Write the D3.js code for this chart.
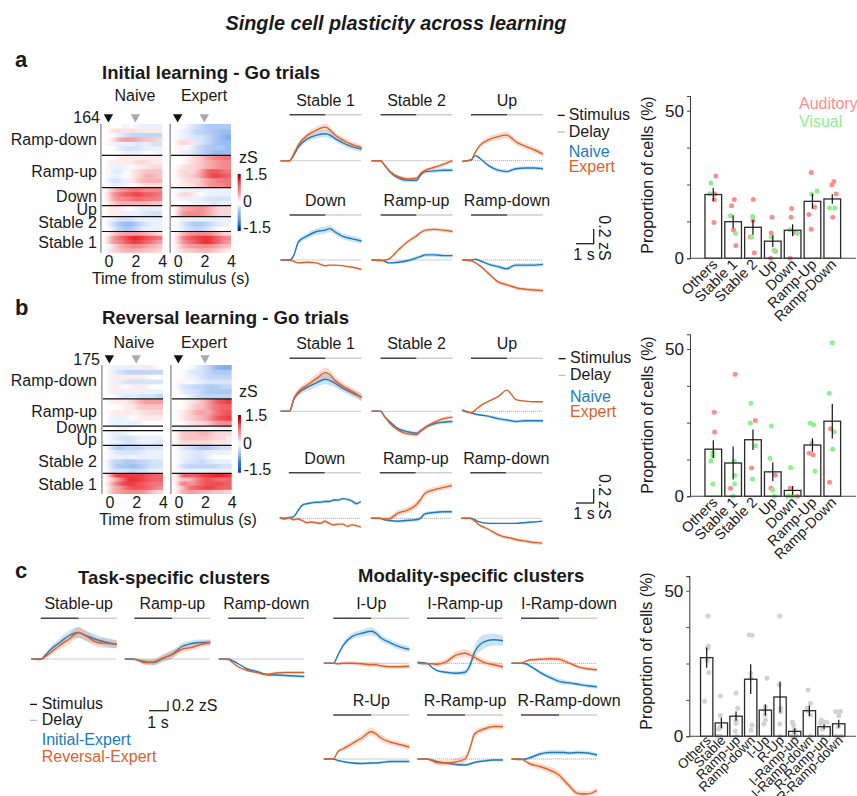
<!DOCTYPE html>
<html>
<head>
<meta charset="utf-8">
<script src="https://cdn.jsdelivr.net/npm/d3@7"></script>
<style>
body { margin: 0; background: #fff; overflow: hidden; }
text { font-family: "Liberation Sans", Arial, sans-serif; fill: #1a1a1a; }
</style>
</head>
<body>
<script>
// ---------- trace data (zS), read at these times (s) ----------
var traceTimes = [-0.5, 0, 0.25, 0.5, 1, 1.5, 2, 2.25, 2.5, 3, 3.5, 4];

var semTiny  = [0, 0, .004, .006, .01, .01, .01, .01, .01, .01, .01, .01];
var semSmall = [0, 0, .01, .015, .02, .025, .025, .025, .025, .025, .025, .025];
var semMid   = [0, .002, .02, .03, .04, .045, .05, .05, .04, .04, .04, .04];
var semBig   = [0, .002, .025, .04, .05, .06, .07, .065, .06, .05, .05, .05];
var semWide  = [0, .004, .03, .05, .06, .07, .08, .07, .07, .06, .06, .06];
var semHuge  = [0, .005, .04, .06, .08, .1, .11, .1, .1, .09, .09, .08];
var semLate  = [0, .005, .01, .02, .03, .04, .05, .09, .12, .14, .12, .1];

// panel a
var aStable1Naive = [0, 0, .08, .19, .30, .35, .37, .35, .31, .24, .19, .16];
var aStable1Expert = [0, 0, .10, .22, .35, .42, .46, .42, .36, .28, .22, .18];
var aStable2Naive = [0, 0, -.07, -.15, -.24, -.27, -.27, -.19, -.15, -.14, -.13, -.13];
var aStable2Expert = [0, 0, -.07, -.14, -.22, -.25, -.24, -.17, -.13, -.09, -.05, 0];
var aUpNaive = [-.01, .01, .07, .03, -.07, -.13, -.15, -.13, -.11, -.10, -.10, -.11];
var aUpExpert = [-.01, .01, .12, .21, .29, .33, .35, .31, .26, .20, .15, .09];
var aDownNaive = [0, 0, .07, .25, .33, .39, .41, .43, .39, .32, .29, .26];
var aDownExpert = [0, 0, -.02, -.04, -.03, -.04, -.08, -.07, -.07, -.08, -.10, -.13];
var aRampUpNaive = [0, 0, -.02, -.04, -.03, -.01, .03, .05, .07, .07, .06, .06];
var aRampUpExpert = [0, -.01, 0, .02, .14, .25, .33, .38, .41, .42, .41, .39];
var aRampDownNaive = [0, 0, .01, -.01, -.06, -.09, -.12, -.09, -.07, -.07, -.07, -.06];
var aRampDownExpert = [0, -.01, -.04, -.08, -.19, -.30, -.34, -.36, -.38, -.40, -.41, -.42];

// panel b
var bStable1Naive = [0, 0, .17, .25, .33, .39, .44, .42, .39, .31, .25, .19];
var bStable1Expert = [0, 0, .18, .27, .36, .45, .53, .50, .43, .34, .27, .19];
var bStable2Naive = [0, 0, -.08, -.14, -.24, -.28, -.30, -.26, -.22, -.17, -.15, -.14];
var bStable2Expert = [0, 0, -.08, -.16, -.26, -.31, -.32, -.27, -.22, -.15, -.10, -.08];
var bUpNaive = [.02, -.02, -.04, -.05, -.07, -.10, -.12, -.13, -.14, -.13, -.13, -.13];
var bUpExpert = [.01, -.02, .02, .07, .14, .20, .29, .23, .16, .14, .13, .13];
var bRampUpNaive = [0, 0, -.02, -.03, -.04, -.03, -.02, 0, .06, .08, .09, .09];
var bRampUpExpert = [0, 0, -.01, -.01, .07, .11, .18, .25, .34, .39, .42, .45];
var bRampDownNaive = [0, 0, -.02, -.05, -.07, -.07, -.07, -.07, -.07, -.06, -.05, -.04];
var bRampDownExpert = [0, 0, -.04, -.09, -.15, -.22, -.26, -.27, -.29, -.31, -.33, -.34];
// the b Down traces are noisy, so they are read on a finer grid
var bDownTimes = [-.5, -.25, 0, .25, .5, .75, 1, 1.25, 1.5, 1.75, 2, 2.25, 2.5, 2.75, 3, 3.25, 3.5, 3.75, 4];
var bDownNaive = [.01, 0, .01, .02, .1, .18, .2, .21, .22, .22, .23, .23, .25, .25, .27, .26, .24, .2, .23];
var bDownExpert = [.01, -.01, .01, -.02, -.01, -.03, -.06, -.05, -.06, -.07, -.04, -.07, -.09, -.08, -.08, -.11, -.09, -.1, -.12];
var bDownSem = [.015, .015, .015, .015, .02, .02, .02, .02, .02, .02, .02, .02, .02, .02, .02, .02, .02, .02, .02];

// panel c, task-specific
var cStableUpInitial = [0, 0, .08, .18, .33, .47, .53, .49, .45, .38, .33, .29];
var cStableUpReversal = [0, -.01, .05, .12, .27, .40, .53, .49, .43, .33, .31, .30];
var cRampUpInitial = [0, 0, -.03, -.05, -.07, .01, .10, .17, .25, .31, .33, .33];
var cRampUpReversal = [0, -.01, -.03, -.07, -.06, .02, .09, .14, .19, .23, .29, .33];
var cRampDownInitial = [0, 0, -.04, -.09, -.20, -.25, -.31, -.32, -.32, -.33, -.34, -.35];
var cRampDownReversal = [0, -.01, -.08, -.15, -.23, -.27, -.31, -.30, -.28, -.27, -.27, -.27];

// panel c, modality-specific
var cIUpInitial = [0, 0, .17, .35, .54, .60, .64, .60, .51, .41, .33, .28];
var cIUpReversal = [0, 0, -.01, 0, 0, -.01, -.03, -.03, -.05, -.07, -.07, -.06];
var cIRampUpInitial = [.02, 0, -.08, -.14, -.18, -.20, -.18, -.05, .22, .43, .47, .45];
var cIRampUpReversal = [0, -.01, -.01, -.02, .03, .16, .20, .17, .12, .02, -.03, -.07];
var cIRampDownInitial = [0, 0, -.01, -.06, -.18, -.28, -.36, -.38, -.39, -.42, -.45, -.47];
var cIRampDownReversal = [0, 0, .04, .07, .08, .09, .08, .05, .01, -.07, -.11, -.13];
var cRUpInitial = [0, 0, -.03, -.05, -.08, -.09, -.08, -.08, -.07, -.05, -.05, -.05];
var cRUpReversal = [0, 0, .15, .20, .31, .42, .55, .50, .42, .34, .29, .24];
var cRRampUpInitial = [0, 0, -.02, -.05, -.08, -.11, -.12, -.10, -.07, -.04, -.02, -.02];
var cRRampUpReversal = [0, 0, -.03, -.07, -.08, -.06, 0, .20, .50, .60, .65, .65];
var cRRampDownInitial = [0, -.01, 0, .03, .10, .13, .13, .13, .12, .13, .12, .08];
var cRRampDownReversal = [0, 0, -.05, -.10, -.15, -.22, -.32, -.42, -.52, -.69, -.70, -.63];

// ---------- heat maps: rows of tenths of zS, top row first ----------
var heatTimes = [-0.25, 0.25, 0.75, 1.25, 1.75, 2.25, 2.75, 3.25, 3.75];
var heatClusters = ["Ramp-down", "Ramp-up", "Down", "Up", "Stable 2", "Stable 1"];
var aClusterCells = [40, 41, 23, 14, 19, 27];
var bClusterCells = [46, 37, 6, 20, 38, 28];

var aHeatNaive = [
  [[0,0,0,-1,0,-1,-1,-1,-1],[0,1,2,1,2,1,1,1,1],[0,0,-1,-2,-3,-3,-3,-3,-3],[0,1,4,5,5,4,3,3,2],[0,-1,-1,-1,-1,-2,-1,-2,-2],[0,0,-1,-2,-2,-2,-1,-1,-1],[0,0,0,-1,-1,-1,0,0,-1]],
  [[0,0,1,1,1,1,1,1,1],[0,1,1,1,1,2,2,1,1],[0,-1,-1,-1,0,1,1,2,2],[0,-1,-2,0,1,2,3,3,3],[0,-1,-1,0,1,2,4,4,3],[0,-2,-2,-1,1,3,4,4,4],[0,-1,-1,-1,0,1,2,2,2]],
  [[0,3,5,6,7,7,6,6,6],[0,5,7,8,9,10,8,8,7],[0,4,6,6,7,8,7,7,6],[0,2,4,4,4,4,4,3,3]],
  [[0,1,1,0,0,-1,-1,-1,-1],[0,1,1,-1,-1,-1,-2,-2,-2]],
  [[0,-1,-2,-2,-2,-1,-1,-1,-1],[0,-2,-4,-5,-5,-3,-2,-1,-1],[0,-1,-3,-4,-4,-2,-1,-1,-1]],
  [[0,2,4,5,5,5,4,3,2],[0,5,7,9,11,11,9,8,7],[0,5,6,8,10,10,8,7,5],[0,-1,4,5,6,6,5,4,3],[0,2,3,4,4,4,3,3,2]]
];
var aHeatExpert = [
  [[0,0,-1,-2,-3,-4,-4,-4,-4],[0,-1,-1,-3,-3,-4,-4,-5,-5],[0,-1,-1,-2,-2,-3,-4,-5,-6],[0,2,2,-1,-2,-3,-4,-5,-5],[0,1,0,-2,-3,-4,-4,-4,-5],[0,-1,-1,-2,-3,-4,-5,-5,-5]],
  [[0,0,1,2,3,5,6,7,7],[0,0,1,2,3,4,5,6,6],[0,1,2,2,3,4,5,6,6],[0,2,2,2,5,8,9,8,7],[0,2,2,3,5,8,10,9,8],[0,1,2,2,3,5,6,7,7],[0,1,1,2,3,5,6,6,7]],
  [[0,-1,-1,-1,-1,-1,-1,-1,-1],[0,2,2,1,0,-1,-1,-1,-1],[0,-1,-1,-1,-1,-2,-2,-2,-2],[0,0,0,-1,-1,-1,-2,-1,-1]],
  [[0,4,5,5,6,5,3,2,2],[0,5,6,6,6,5,3,2,2]],
  [[0,-1,-1,-1,-1,-1,-1,-1,-1],[0,-1,-3,-4,-4,-3,-2,-1,-1],[0,-1,-2,-3,-3,-2,-1,0,0]],
  [[0,3,5,6,6,6,5,3,2],[0,6,8,9,10,11,9,7,6],[0,5,7,8,10,11,9,7,5],[0,3,5,5,6,6,5,4,3],[0,2,3,3,4,4,3,2,1]]
];
var bHeatNaive = [
  [[0,-1,-1,-1,-1,1,1,1,0],[0,-1,-2,-3,-3,-3,-3,-3,-3],[0,1,1,1,1,1,1,0,0],[0,-1,-1,-2,-2,-2,-2,-2,-2],[0,1,1,0,1,1,1,0,0],[0,-1,-1,-1,-1,-1,-1,-1,-1],[0,0,-1,-2,-1,-2,-2,-2,-3]],
  [[0,1,1,1,2,4,5,5,5],[0,0,0,1,1,3,3,3,3],[0,1,1,1,1,1,2,2,2],[0,-1,-1,-1,0,1,1,1,1],[0,-1,-1,-1,-1,-1,0,0,0]],
  [[0,0,-1,-1,0,0,0,0,0]],
  [[0,-1,-1,-1,0,0,0,0,0],[0,-1,-2,-2,-2,-1,-1,-1,-1],[0,-1,-1,-2,-2,-1,-1,-1,-2]],
  [[0,-3,-4,-3,-3,-3,-2,-2,-2],[0,-1,-2,-2,-2,-2,-1,-1,-1],[0,-1,-1,-1,-1,-1,-1,-1,-1],[0,-3,-3,-4,-4,-3,-3,-2,-2],[0,-3,-4,-4,-5,-4,-3,-2,-2],[0,-2,-2,-2,-3,-2,-2,-1,-1]],
  [[0,9,10,10,10,10,9,8,8],[0,3,6,10,11,10,9,8,8],[0,5,8,10,10,9,8,7,7],[0,4,5,8,9,9,8,7,6],[0,4,5,6,6,6,5,3,2]]
];
var bHeatExpert = [
  [[0,0,0,-1,-2,-3,-5,-6,-6],[0,0,-1,-2,-2,-3,-4,-4,-4],[0,0,-1,-1,-2,-3,-3,-3,-3],[0,1,0,-1,-1,-2,-2,-2,-2],[0,-2,-2,-3,-3,-4,-4,-3,-3],[0,-1,-2,-2,-3,-4,-4,-4,-4],[0,0,-1,-2,-3,-3,-3,-3,-3]],
  [[0,0,1,2,3,5,8,9,10],[0,0,1,3,3,5,7,8,8],[0,1,2,4,5,4,7,8,9],[0,1,2,3,4,5,8,9,10],[0,0,1,2,2,3,5,6,6]],
  [[0,-1,-1,-1,-1,0,-1,-1,-1]],
  [[0,3,3,3,4,4,2,2,2],[0,3,3,3,3,3,2,2,1],[0,2,2,2,2,2,1,1,1]],
  [[0,-2,-2,-3,-4,-4,-3,-2,-2],[0,-1,-1,-2,-2,-1,-1,-1,-1],[0,-1,-1,-2,-2,-1,0,0,0],[0,-1,-2,-2,-3,-2,-1,-1,-1],[0,-2,-3,-3,-3,-3,-3,-2,-2],[0,-1,-1,-1,-1,-1,-1,-1,-1]],
  [[0,9,8,8,10,10,11,11,10],[0,4,3,6,8,9,8,7,8],[0,8,5,6,8,9,9,9,8],[0,3,7,8,9,10,9,8,8],[0,4,5,5,4,4,3,3,2]]
];

// ---------- bar data (%) ----------
var abCategories = ["Others", "Stable 1", "Stable 2", "Up", "Down", "Ramp-Up", "Ramp-Down"];
var aMeans = [21.6, 12.4, 10.5, 5.8, 9.5, 19.3, 20.1];
var aErrors = [2.2, 2.2, 2.5, 2, 2, 2.5, 1.6];
var aAuditoryCat = [.13,.08,.05,.03,1.06,.92,1.02,1.14,2.02,2,1.87,2.07,2.96,2.92,3.13,2.89,3.95,3.92,4.1,3.88,4.94,5.11,4.82,4.94,6.08,5.98,6.2,6.03];
var aAuditoryVal = [27.9,21.8,19.8,12.1,19.9,17.8,9.6,4.3,19.9,12.8,7.2,1.9,13.9,8.6,2.4,0,16.9,13.9,8.7,0,29.1,17.4,14.8,9.8,26,24.9,21.8,13.9];
var aVisualCat = [-.12,-.17,.87,1.13,1.98,1.93,2.92,3.06,3.87,4.24,5.23,4.97,5.86,6.13];
var aVisualVal = [25.5,21.9,14.4,8.4,14.2,7.2,7.2,2.7,9.7,8.5,22.8,21.8,17,17];

var bMeans = [16, 11.3, 19.2, 8.3, 2, 17.4, 25.5];
var bErrors = [3, 5.6, 3.5, 3.2, 1.5, 2.3, 5.9];
var bAuditoryCat = [.05,.07,1.11,.87,2.12,1.93,3.13,2.91,3.88,4.24,4.84,5.03,5.92,5.86];
var bAuditoryVal = [28.5,21.8,41.4,2.7,25.7,9.6,7.2,2.7,2.7,0,14.6,14.1,22.9,4.8];
var bVisualCat = [-.02,-.02,-.12,-.02,1.05,1.08,1.08,1,1.9,1.87,2.13,1.98,2.93,2.86,3,3.08,3.9,3.76,4,3.93,4.89,5.06,4.96,5.13,6,5.85,6.1,6.02];
var bVisualVal = [14.8,13.8,12.1,4.2,11.9,7.1,4.3,0,31.6,24.9,17.2,5.9,23.9,12.9,2.1,0,9.8,0,0,0,24.9,24.3,18,8.5,52.1,35,21.9,16];

var cCategories = ["Others", "Stable", "Ramp-up", "Ramp-down", "I-Up", "R-Up", "I-Ramp-up", "I-Ramp-down", "R-Ramp-up", "R-Ramp-down"];
var cMeans = [27, 4.6, 6.9, 19.6, 9, 13.5, 1.7, 8.8, 3.3, 4.3];
var cErrors = [3.5, 1.8, 1.6, 5.1, 1.9, 5.3, 1.1, 1.8, .8, 1.4];
var cDotCat = [.09,.11,.07,.14,-.14,.05,.93,.93,.95,.82,.93,.7,2,2.11,2,2,1.95,2.02,2.89,3.09,3,3.09,3.02,3,4.11,4,3.98,4,3.89,3.98,4.98,4.95,5.05,5.05,4.98,5,5.84,5.93,5.98,5.84,6.09,5.95,6.91,7.07,6.84,6.91,7.09,7.07,7.8,7.95,8.2,7.75,7.9,7.86,8.8,9.11,9,8.98,8.84,9.16];
var cDotVal = [41.3,31,30.2,21.9,12,26,13.8,7.1,3.3,2.5,0,0,14.9,9.6,5.4,4.5,1.8,0,34.9,34.7,21.6,3.9,2.2,19.9,19.9,10.2,9,5.6,4.2,7.4,41.3,17.6,9.6,8.4,4.2,0,4.8,3.7,2.2,0,0,1,15.9,11.3,9.7,8.7,7.3,0,5.5,5,4.7,4.5,2.4,0,8.5,8.5,7.1,3.3,0,0];

// ---------- drawing ----------
var blue = "#1a7cc4", orange = "#e0602a", auditory = "#ff8c8c", visual = "#8cf08c";
var stimColor = "#454545", delayColor = "#cfcfcf";
var fontSize = 16;

var svg = d3.select("body").append("svg").attr("width", 857).attr("height", 796);
var defs = svg.append("defs");
defs.append("filter").attr("id", "smear")
    .attr("x", "-15%").attr("y", "-10%").attr("width", "130%").attr("height", "120%")
    .append("feGaussianBlur").attr("stdDeviation", "3 0.7");

function label(x, y, str, size, opts) {
    opts = opts || {};
    var t = svg.append("text").attr("x", x).attr("y", y).text(str)
        .style("font-size", size + "px")
        .attr("text-anchor", opts.anchor || "start");
    if (opts.bold) t.style("font-weight", "bold");
    if (opts.italic) t.style("font-style", "italic");
    if (opts.color) t.style("fill", opts.color);
    if (opts.rotate) t.attr("transform", "rotate(" + opts.rotate + "," + x + "," + y + ")");
    return t;
}

function segment(x1, y1, x2, y2, color, w) {
    svg.append("line").attr("x1", x1).attr("y1", y1).attr("x2", x2).attr("y2", y2)
        .attr("stroke", color).attr("stroke-width", w);
}

// one small trace panel
function tracePanel(title, zeroX, barY, baseY, pxPerSec, pxPerZ, series, times, titleShift) {
    var x = d3.scaleLinear().domain([0, 4]).range([zeroX, zeroX + 4 * pxPerSec]);
    var y = d3.scaleLinear().domain([0, 1]).range([baseY, baseY - pxPerZ]);
    var g = svg.append("g");

    label(x(2) + (titleShift || 0), barY - 9, title, fontSize, {anchor: "middle"});
    g.append("line").attr("x1", x(0)).attr("x2", x(4)).attr("y1", baseY).attr("y2", baseY)
        .attr("stroke", "#8a8a8a").attr("stroke-width", .7).attr("stroke-dasharray", "1.2,0.8");
    g.append("line").attr("x1", x(0)).attr("x2", x(2)).attr("y1", barY).attr("y2", barY)
        .attr("stroke", stimColor).attr("stroke-width", 1.6);
    g.append("line").attr("x1", x(2)).attr("x2", x(4)).attr("y1", barY).attr("y2", barY)
        .attr("stroke", delayColor).attr("stroke-width", 1.6);

    var area = d3.area().curve(d3.curveMonotoneX)
        .x(function(d) { return x(d.t); })
        .y0(function(d) { return y(d.v - d.s); })
        .y1(function(d) { return y(d.v + d.s); });
    var line = d3.line().curve(d3.curveMonotoneX)
        .x(function(d) { return x(d.t); })
        .y(function(d) { return y(d.v); });

    series.forEach(function(s) {
        var pts = (times || traceTimes).map(function(t, i) { return {t: t, v: s.values[i], s: s.sem[i]}; });
        g.append("path").datum(pts).attr("d", area).attr("fill", s.color).attr("opacity", .22);
        g.append("path").datum(pts).attr("d", line).attr("fill", "none")
            .attr("stroke", s.color).attr("stroke-width", 1.4);
    });
}

function pair(v1, sem1, v2, sem2) {
    return [{values: v1, sem: sem1, color: blue}, {values: v2, sem: sem2, color: orange}];
}

var heatColor = d3.scaleLinear().domain([-1.5, -1.2, 0, 1.2, 1.5])
    .range(["#00107a", "#0a5ce0", "#ffffff", "#e8141c", "#7a0010"]);

var clipCount = 0;

// one heat map with its cluster lines
function heatMap(matrix, cells, x0, x1, top, bottom) {
    var total = d3.sum(cells);
    var x = d3.scaleBand().domain(heatTimes).range([x0, x1]);
    var y = d3.scaleLinear().domain([total, 0]).range([top, bottom]);
    var time = d3.scaleLinear().domain([-0.5, 4]).range([x0, x1]);

    clipCount++;
    defs.append("clipPath").attr("id", "heat" + clipCount)
        .append("rect").attr("x", x0).attr("y", top).attr("width", x1 - x0).attr("height", bottom - top);
    var g = svg.append("g").attr("clip-path", "url(#heat" + clipCount + ")")
        .append("g").attr("filter", "url(#smear)");

    // the blur would fade the edges, so the outer cells run a little past the clip
    var remaining = total;
    matrix.forEach(function(rows, c) {
        var rowCells = cells[c] / rows.length;
        rows.forEach(function(row, r) {
            var yTop = y(remaining - r * rowCells);
            var yBot = y(remaining - (r + 1) * rowCells);
            if (c === 0 && r === 0) yTop -= 4;
            if (c === matrix.length - 1 && r === rows.length - 1) yBot += 4;
            g.selectAll(null).data(row).enter().append("rect")
                .attr("x", function(d, i) { return x(heatTimes[i]); })
                .attr("y", yTop)
                .attr("width", function(d, i) { return x.bandwidth() + (i === row.length - 1 ? 10 : .5); })
                .attr("height", yBot - yTop + .5)
                .attr("fill", function(d) { return heatColor(d / 10); });
        });
        remaining -= cells[c];
        if (c < matrix.length - 1) {
            segment(x0, y(remaining), x1, y(remaining), "#111", 1.2);
        }
    });
    segment(x0 - .8, top, x0 - .8, bottom, "#9a9a9a", 1.5);

    // stimulus onset and offset markers
    var tri = d3.symbol().type(d3.symbolTriangle).size(38);
    [[0, "#111"], [2, "#aaa"]].forEach(function(m) {
        svg.append("path").attr("d", tri())
            .attr("transform", "translate(" + time(m[0]) + "," + (top - 7) + ") rotate(180)")
            .attr("fill", m[1]);
    });

    var axis = d3.axisBottom(time).tickValues([0, 2, 4]).tickSize(0).tickPadding(0).tickFormat(d3.format("d"));
    var ag = svg.append("g").attr("transform", "translate(0," + (bottom + 3) + ")").call(axis);
    ag.select(".domain").remove();
    ag.selectAll("text").style("font-size", fontSize + "px").style("fill", "#1a1a1a");
}

function colorBar(x, top, bottom) {
    var y = d3.scaleLinear().domain([1.5, -1.5]).range([top, bottom]);
    svg.append("g").selectAll("rect").data(d3.range(-1.5, 1.5, .05)).enter().append("rect")
        .attr("x", x).attr("width", 3)
        .attr("y", function(d) { return y(d + .05); })
        .attr("height", y(0) - y(.05) + .3)
        .attr("fill", function(d) { return heatColor(d + .025); });
}

function barChart(o) {
    var cats = o.cats, means = o.means, errors = o.errors;
    var xBand = d3.scaleBand().domain(cats)
        .range([o.first - o.step / 2, o.first - o.step / 2 + o.step * cats.length])
        .paddingInner(.16).paddingOuter(.08);
    var xCat = d3.scaleLinear().domain([0, cats.length - 1])
        .range([xBand(cats[0]) + xBand.bandwidth() / 2, xBand(cats[cats.length - 1]) + xBand.bandwidth() / 2]);
    var y = d3.scaleLinear().domain([0, 50]).range([o.y0, o.y50]);

    o.dots.forEach(function(set) {
        svg.append("g").selectAll("circle").data(set.val).enter().append("circle")
            .attr("cx", function(d, i) { return xCat(set.cat[i]); })
            .attr("cy", function(d) { return y(d); })
            .attr("r", 2.5).attr("fill", set.color);
    });

    svg.append("g").selectAll("rect").data(means).enter().append("rect")
        .attr("x", function(d, i) { return xBand(cats[i]); })
        .attr("y", function(d) { return y(d); })
        .attr("width", xBand.bandwidth())
        .attr("height", function(d) { return o.y0 - y(d); })
        .attr("fill", "none").attr("stroke", "#2a2a2a").attr("stroke-width", 1.3);

    svg.append("g").selectAll("line").data(means).enter().append("line")
        .attr("x1", function(d, i) { return xCat(i); })
        .attr("x2", function(d, i) { return xCat(i); })
        .attr("y1", function(d, i) { return y(d - errors[i]); })
        .attr("y2", function(d, i) { return y(d + errors[i]); })
        .attr("stroke", "#111").attr("stroke-width", 1.2);

    // y axis runs a bit past the 50 tick
    var yAxisScale = d3.scaleLinear().domain([0, 55]).range([o.y0, y(55)]);
    var axis = d3.axisLeft(yAxisScale).tickValues([0, 12.5, 25, 37.5, 50]).tickSizeOuter(0).tickSize(3).tickPadding(3)
        .tickFormat(function(d) { return (d === 0 || d === 50) ? d : ""; });
    var ag = svg.append("g").attr("transform", "translate(" + o.axisX + ",0)").call(axis);
    ag.select(".domain").attr("stroke", "#444").attr("stroke-width", 1.1);
    ag.selectAll("line").attr("stroke", "#444");
    ag.selectAll("text").style("font-size", "17px");

    segment(o.axisX, o.y0, 856, o.y0, "#444", 1.1);

    cats.forEach(function(c, i) {
        label(xCat(i) + o.labelDx, o.y0 + o.labelDy, c, o.labelSize, {anchor: "end", rotate: -45});
    });

    label(o.axisX - 37, o.titleY, "Proportion of cells (%)", fontSize, {anchor: "middle", rotate: -90});
}

function scaleBar(x1, x2, yTop, yBottom) {
    segment(x1, yBottom, x2, yBottom, "#222", 1.3);
    segment(x2, yTop, x2, yBottom + .6, "#222", 1.3);
}

function timeLegend(dashX, textX, y1, y2) {
    segment(dashX, y1 - 4.6, dashX + 7, y1 - 4.6, "#111", 1.3);
    segment(dashX, y2 - 4.6, dashX + 7, y2 - 4.6, "#bbb", 1.3);
    label(textX, y1, "Stimulus", fontSize);
    label(textX, y2, "Delay", fontSize);
}

// ---------- titles ----------
label(396, 30, "Single cell plasticity across learning", 19.8, {anchor: "middle", bold: true, italic: true});
label(15, 67, "a", 22, {bold: true});
label(15, 315, "b", 22, {bold: true});
label(15, 578, "c", 22, {bold: true});
label(102, 79, "Initial learning - Go trials", 18.6, {bold: true});
label(102, 324, "Reversal learning - Go trials", 18.6, {bold: true});
label(78, 584, "Task-specific clusters", 18.5, {bold: true});
label(358, 582, "Modality-specific clusters", 18.5, {bold: true});

// ---------- panel a ----------
heatMap(aHeatNaive, aClusterCells, 101.7, 162.3, 124, 252.7);
heatMap(aHeatExpert, aClusterCells, 171, 231, 124, 252.7);
label(135, 100.7, "Naive", fontSize, {anchor: "middle"});
label(204, 100.7, "Expert", fontSize, {anchor: "middle"});
label(100, 122.7, "164", fontSize, {anchor: "end"});
var aClusterBaselines = [145, 177.3, 201.7, 215, 228.3, 248.3];
heatClusters.forEach(function(c, i) { label(97, aClusterBaselines[i], c, fontSize, {anchor: "end"}); });
label(170.7, 284.3, "Time from stimulus (s)", fontSize, {anchor: "middle"});
label(239, 163.3, "zS", fontSize);
colorBar(237.7, 174, 230.7);
label(245, 180, "1.5", fontSize);
label(243, 207.3, "0", fontSize);
label(243.3, 233.3, "-1.5", fontSize);

var col1 = 289.5, col2 = 380.5, col3 = 471, secPx = 18, zPx = 73;
tracePanel("Stable 1", col1, 114.7, 160.7, secPx, zPx, pair(aStable1Naive, semMid, aStable1Expert, semMid));
tracePanel("Stable 2", col2, 114.7, 160.7, secPx, zPx, pair(aStable2Naive, semSmall, aStable2Expert, semSmall));
tracePanel("Up", col3, 114.7, 160.7, secPx, zPx, pair(aUpNaive, semSmall, aUpExpert, semMid));
tracePanel("Down", col1, 215, 260, secPx, zPx, pair(aDownNaive, semMid, aDownExpert, semTiny));
tracePanel("Ramp-up", col2, 215, 260, secPx, zPx, pair(aRampUpNaive, semSmall, aRampUpExpert, semSmall));
tracePanel("Ramp-down", col3, 215, 260, secPx, zPx, pair(aRampDownNaive, semSmall, aRampDownExpert, semSmall));

timeLegend(557.7, 568.7, 120, 136.7);
label(568.7, 157, "Naive", fontSize, {color: blue});
label(568.7, 171.7, "Expert", fontSize, {color: orange});
scaleBar(576, 593.7, 229, 243.7);
label(584, 260, "1 s", fontSize, {anchor: "middle"});
label(599.3, 238, "0.2 zS", fontSize, {anchor: "middle", rotate: 90});

barChart({cats: abCategories, means: aMeans, errors: aErrors,
    dots: [{cat: aAuditoryCat, val: aAuditoryVal, color: auditory}, {cat: aVisualCat, val: aVisualVal, color: visual}],
    axisX: 690, first: 713.3, step: 19.83, y50: 110.7, y0: 258.3, titleY: 175,
    labelSize: 14.5, labelDx: 5, labelDy: 7});
label(799, 108.5, "Auditory", fontSize, {color: auditory});
label(799, 126.7, "Visual", fontSize, {color: visual});

// ---------- panel b ----------
heatMap(bHeatNaive, bClusterCells, 102.7, 163, 365, 494);
heatMap(bHeatExpert, bClusterCells, 171.7, 231.7, 365, 494);
label(134, 347.7, "Naive", fontSize, {anchor: "middle"});
label(204, 347.7, "Expert", fontSize, {anchor: "middle"});
label(100, 365, "175", fontSize, {anchor: "end"});
var bClusterBaselines = [385.7, 417.3, 433.3, 445, 466.7, 490];
heatClusters.forEach(function(c, i) { label(97, bClusterBaselines[i], c, fontSize, {anchor: "end"}); });
label(178, 525, "Time from stimulus (s)", fontSize, {anchor: "middle"});
label(239, 396.7, "zS", fontSize);
colorBar(238, 415, 472.3);
label(245, 420.7, "1.5", fontSize);
label(243, 449, "0", fontSize);
label(243.7, 475, "-1.5", fontSize);

tracePanel("Stable 1", col1, 358.3, 411.3, secPx, zPx, pair(bStable1Naive, semBig, bStable1Expert, semBig));
tracePanel("Stable 2", col2, 358.3, 411.3, secPx, zPx, pair(bStable2Naive, semSmall, bStable2Expert, semSmall));
tracePanel("Up", col3, 358.3, 411.3, secPx, zPx, pair(bUpNaive, semSmall, bUpExpert, semTiny));
tracePanel("Down", col1 - .7, 472.7, 518.3, secPx, zPx, pair(bDownNaive, bDownSem, bDownExpert, bDownSem), bDownTimes);
tracePanel("Ramp-up", col2 - .7, 472.7, 518.3, secPx, zPx, pair(bRampUpNaive, semSmall, bRampUpExpert, semMid));
tracePanel("Ramp-down", col3 - .7, 472.7, 518.3, secPx, zPx, pair(bRampDownNaive, semTiny, bRampDownExpert, semSmall));

timeLegend(558.5, 570, 363.3, 380);
label(570, 401.7, "Naive", fontSize, {color: blue});
label(570, 416.7, "Expert", fontSize, {color: orange});
scaleBar(576, 593.7, 489, 503);
label(584, 519.3, "1 s", fontSize, {anchor: "middle"});
label(599.3, 496.7, "0.2 zS", fontSize, {anchor: "middle", rotate: 90});

barChart({cats: abCategories, means: bMeans, errors: bErrors,
    dots: [{cat: bAuditoryCat, val: bAuditoryVal, color: auditory}, {cat: bVisualCat, val: bVisualVal, color: visual}],
    axisX: 690, first: 713.3, step: 19.83, y50: 349, y0: 496.3, titleY: 415,
    labelSize: 14.5, labelDx: 5, labelDy: 7});

// ---------- panel c ----------
var cSec = 19, cZ = 50;
tracePanel("Stable-up", 40.7, 618.3, 659, cSec, cZ, pair(cStableUpInitial, semHuge, cStableUpReversal, semHuge));
tracePanel("Ramp-up", 134.3, 618.3, 659, cSec, cZ, pair(cRampUpInitial, semWide, cRampUpReversal, semWide));
tracePanel("Ramp-down", 228.3, 618.3, 659, cSec, cZ, pair(cRampDownInitial, semSmall, cRampDownReversal, semSmall));

tracePanel("I-Up", 333.3, 618.3, 663.3, cSec, cZ, pair(cIUpInitial, semWide, cIUpReversal, semMid));
tracePanel("I-Ramp-up", 427, 618.3, 663.3, cSec, cZ, pair(cIRampUpInitial, semLate, cIRampUpReversal, semWide));
tracePanel("I-Ramp-down", 521, 618.3, 663.3, cSec, cZ, pair(cIRampDownInitial, semMid, cIRampDownReversal, semMid), null, 10);
tracePanel("R-Up", 333.3, 715, 759, cSec, cZ, pair(cRUpInitial, semSmall, cRUpReversal, semWide));
tracePanel("R-Ramp-up", 427, 715, 759, cSec, cZ, pair(cRRampUpInitial, semSmall, cRRampUpReversal, semWide));
tracePanel("R-Ramp-down", 521, 715, 759, cSec, cZ, pair(cRRampDownInitial, semMid, cRRampDownReversal, semWide), null, 10);

timeLegend(30, 41.7, 709, 725);
label(41.7, 745, "Initial-Expert", fontSize, {color: blue});
label(41.7, 761.7, "Reversal-Expert", fontSize, {color: orange});
scaleBar(149, 168, 700.7, 710.7);
label(172, 710.7, "0.2 zS", fontSize);
label(158, 728, "1 s", fontSize, {anchor: "middle"});

barChart({cats: cCategories, means: cMeans, errors: cErrors,
    dots: [{cat: cDotCat, val: cDotVal, color: "#d2d2d2"}],
    axisX: 689.3, first: 706.7, step: 14.67, y50: 590.7, y0: 736.3, titleY: 651,
    labelSize: 13.5, labelDx: 5, labelDy: 5});
</script>
</body>
</html>
